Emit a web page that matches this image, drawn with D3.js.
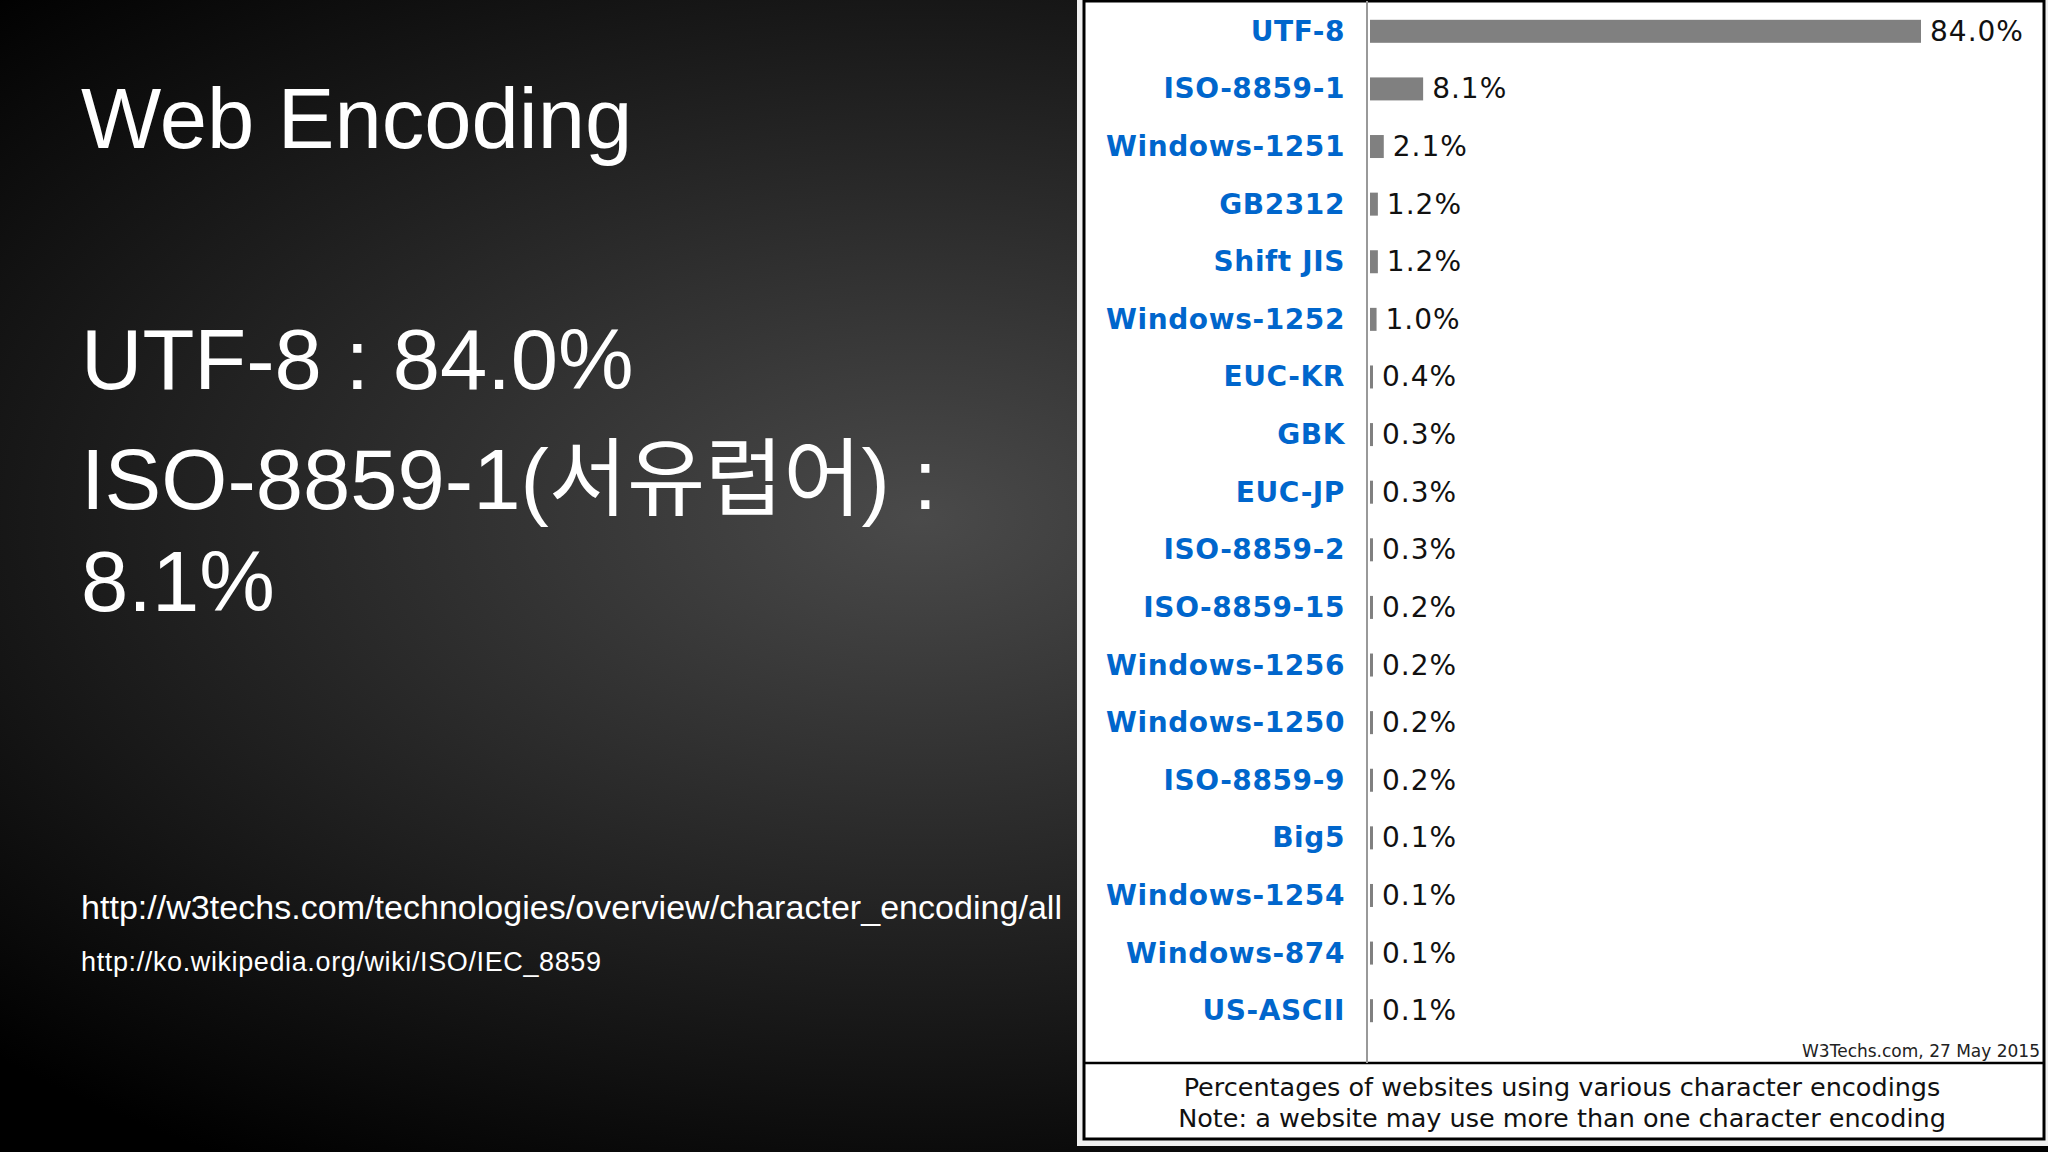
<!DOCTYPE html>
<html><head><meta charset="utf-8">
<script src="https://cdn.jsdelivr.net/npm/d3@7"></script>
<style>body{margin:0;background:#000}</style></head>
<body><script>
const categories=["UTF-8","ISO-8859-1","Windows-1251","GB2312","Shift JIS","Windows-1252","EUC-KR","GBK","EUC-JP","ISO-8859-2","ISO-8859-15","Windows-1256","Windows-1250","ISO-8859-9","Big5","Windows-1254","Windows-874","US-ASCII"];
const values=[84.0,8.1,2.1,1.2,1.2,1.0,0.4,0.3,0.3,0.3,0.2,0.2,0.2,0.2,0.1,0.1,0.1,0.1];
const titleText="Web Encoding";
const bodyLines=["UTF-8 : 84.0%","ISO-8859-1(서유럽어) :","8.1%"];
const links=["http://w3techs.com/technologies/overview/character_encoding/all","http://ko.wikipedia.org/wiki/ISO/IEC_8859"];
const captions=["Percentages of websites using various character encodings","Note: a website may use more than one character encoding"];
const source="W3Techs.com, 27 May 2015";

const W=2048,H=1152;
const svg=d3.select("body").append("svg").attr("width",W).attr("height",H);
const defs=svg.append("defs");
const g=defs.append("radialGradient").attr("id","bg").attr("cx","0.45").attr("cy","0.45").attr("r","0.65");
g.append("stop").attr("offset","0").attr("stop-color","#4a4a4a");
g.append("stop").attr("offset","1").attr("stop-color","#000");
svg.append("rect").attr("width",W).attr("height",H).attr("fill","url(#bg)");

const sans="'Liberation Sans',Arial,sans-serif";
svg.append("text").attr("x",81).attr("y",148).attr("fill","#fff").attr("font-family",sans).attr("font-size",85).text(titleText);
svg.selectAll("text.body").data(bodyLines).join("text").attr("class","body")
 .attr("x",81).attr("y",(d,i)=>[389,509,611][i]).attr("fill","#fff").attr("font-family",sans+",'Noto Sans CJK KR'").attr("font-size",85).text(d=>d);
svg.append("text").attr("x",81).attr("y",919).attr("fill","#fff").attr("font-family",sans).attr("font-size",34).attr("textLength",981).text(links[0]);
svg.append("text").attr("x",81).attr("y",971).attr("fill","#fff").attr("font-family",sans).attr("font-size",27).attr("textLength",520).text(links[1]);

// panel
svg.append("rect").attr("x",1077).attr("y",0).attr("width",971).attr("height",1146).attr("fill","#f0f0f0");
svg.append("rect").attr("x",1084).attr("y",1).attr("width",960).attr("height",1138).attr("fill","#fff").attr("stroke","#000").attr("stroke-width",3);
svg.append("line").attr("x1",1084).attr("x2",2044).attr("y1",1063).attr("y2",1063).attr("stroke","#000").attr("stroke-width",2.5);

const x=d3.scaleLinear().domain([0,84]).range([1370,1921]);
const y=d3.scaleBand().domain(categories).range([5,1042]).padding(0);
svg.append("line").attr("x1",1367).attr("x2",1367).attr("y1",1).attr("y2",1063).attr("stroke","#999").attr("stroke-width",2);
const vf="'DejaVu Sans',Verdana,sans-serif";
const rows=svg.selectAll("g.row").data(categories).join("g").attr("class","row")
 .attr("transform",d=>`translate(0,${y(d)+y.bandwidth()/2-3})`);
rows.append("rect").attr("x",x(0)).attr("y",-11).attr("height",23)
 .attr("width",(d,i)=>Math.max(x(values[i])-x(0),3)).attr("fill","#808080");
rows.append("text").attr("x",1345).attr("y",10).attr("text-anchor","end").attr("fill","#0066cc")
 .attr("font-family",vf).attr("font-weight","bold").attr("font-size",28).attr("letter-spacing",0.6).text(d=>d);
rows.append("text").attr("x",(d,i)=>x(0)+Math.max(x(values[i])-x(0),3)+9).attr("y",10).attr("fill","#111")
 .attr("font-family",vf).attr("font-size",28).attr("letter-spacing",1).text((d,i)=>values[i].toFixed(1)+"%");
svg.append("text").attr("x",2040).attr("y",1057).attr("text-anchor","end").attr("font-family",vf).attr("font-size",17).attr("fill","#222").text(source);
svg.selectAll("text.cap").data(captions).join("text").attr("class","cap").attr("x",1562).attr("y",(d,i)=>[1096,1127][i])
 .attr("text-anchor","middle").attr("font-family",vf).attr("font-size",25.5).attr("fill","#111").text(d=>d);
</script></body></html>
